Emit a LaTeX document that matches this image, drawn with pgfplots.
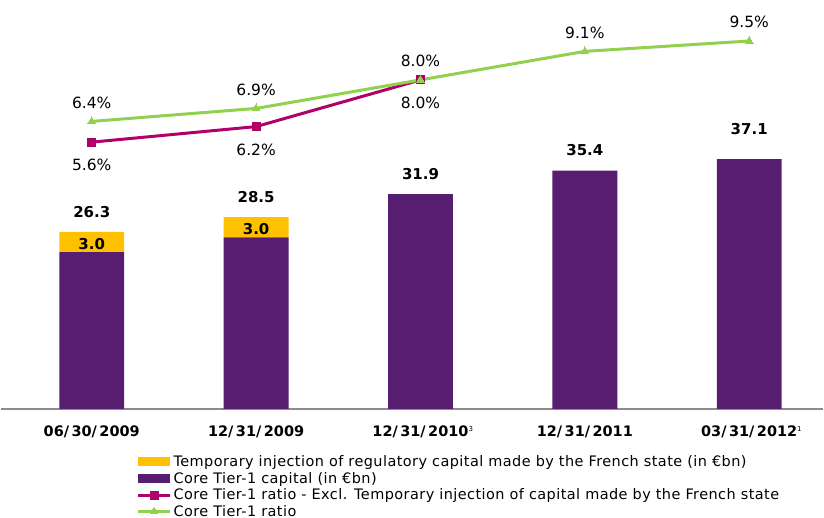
\documentclass[border=0pt]{standalone}
\usepackage{fontspec}
\setmainfont{DejaVu Sans}
\usepackage{pgfplots}
\usepackage{pgfplotstable}
\pgfplotsset{compat=1.18}

\definecolor{injOrange}{HTML}{FFC000}
\definecolor{corePurple}{HTML}{561D70}
\definecolor{exclMagenta}{HTML}{B0006A}
\definecolor{ratioGreen}{HTML}{92D050}
\definecolor{baseGray}{HTML}{8C8C8C}

% capital in EUR bn: core part, temporary state injection, total
\pgfplotstableread{
x core temp inner top
0 23.3 3.0 3.0 26.3
1 25.5 3.0 3.0 28.5
2 31.9 0   {}  31.9
3 35.4 0   {}  35.4
4 37.1 0   {}  37.1
}\capital

\newcommand{\dsl}{/\hspace{2.5pt}}

\pgfplotsset{
  frame/.style={
    width=824pt, height=410pt, scale only axis,
    xmin=-0.552, xmax=4.449, clip=false,
  },
  boxleg/.style={legend image code/.code={\fill[##1] (0pt,-4.5pt) rectangle (32pt,4.5pt);}},
  lineleg/.style={legend image code/.code={\draw[mark repeat=2,mark phase=2,##1] plot coordinates {(0pt,0pt)(16pt,0pt)(32pt,0pt)};}},
  pct/.style={
    nodes near coords={\pgfmathprintnumber[fixed,fixed zerofill,precision=1]{\pgfplotspointmeta}\%},
    nodes near coords style={font=\fontsize{15.5}{18}\selectfont, text=black, inner sep=0pt},
  },
  totlab/.style={
    draw=none, mark=none,
    nodes near coords={\pgfmathprintnumber[fixed,fixed zerofill,precision=1]{\pgfplotspointmeta}},
    nodes near coords style={font=\bfseries\fontsize{15}{17}\selectfont, text=black, inner sep=0pt, anchor=south},
  },
}

\begin{document}
\begin{tikzpicture}
\begin{axis}[
  frame,
  ybar stacked, bar width=65pt,
  ymin=0, ymax=60.74,
  axis y line=none,
  axis x line*=bottom,
  x axis line style={-, draw=baseGray, line width=2pt},
  xtick={0,1,2,3,4},
  xticklabels={
    06\dsl30\dsl2009,
    12\dsl31\dsl2009,
    12\dsl31\dsl2010\rlap{\textsuperscript{\mdseries\fontsize{7}{8}\selectfont 3}},
    12\dsl31\dsl2011,
    03\dsl31\dsl2012\rlap{\textsuperscript{\mdseries\fontsize{7}{8}\selectfont 1}}},
  major tick length=0pt,
  x tick label style={font=\bfseries\fontsize{14.5}{17}\selectfont, inner sep=0pt, yshift=-17pt},
]
\path (rel axis cs:0,0) rectangle (rel axis cs:1,1);
\addplot[fill=corePurple, draw=none]
  table[x=x, y=core] {\capital};
\addplot[fill=injOrange, draw=none,
  nodes near coords, point meta=explicit symbolic,
  nodes near coords style={font=\bfseries\fontsize{15}{17}\selectfont, inner sep=0pt, anchor=center, yshift=-2pt}]
  table[x=x, y=temp, meta=inner] {\capital};
\end{axis}

% totals above the bars, same scale as the bars
\begin{axis}[
  frame,
  ymin=0, ymax=60.74,
  hide axis,
  /pgf/number format/assume math mode=true,
]
\addplot[totlab, nodes near coords style={yshift=14.5pt}]
  table[x=x, y=top, skip coords between index={4}{5}] {\capital};
\addplot[totlab, nodes near coords style={yshift=24pt}]
  table[x=x, y=top, skip coords between index={0}{4}] {\capital};
\end{axis}

% ratios in percent
\begin{axis}[
  frame,
  ymin=-4.688, ymax=11.081,
  hide axis,
  /pgf/number format/assume math mode=true,
  legend style={
    at={(0.165,-0.114)}, anchor=north west,
    draw=none, fill=none, inner sep=0pt, outer sep=0pt,
    row sep=4.1pt, nodes={inner sep=0pt},
    font=\fontsize{14.5}{16.7}\selectfont\addfontfeatures{LetterSpace=3},
    /tikz/every odd column/.append style={column sep=2pt},
  },
  legend cell align=left,
]
\addlegendimage{fill=injOrange, draw=none, boxleg}
\addlegendentry{Temporary injection of regulatory capital made by the French state (in €bn)}
\addlegendimage{fill=corePurple, draw=none, boxleg}
\addlegendentry{Core Tier-1 capital (in €bn)}

\addplot[exclMagenta, line width=3pt, mark=square*, mark size=4pt,
  mark options={solid, line width=0pt},
  pct, nodes near coords style={anchor=north, yshift=-17pt}, lineleg]
  coordinates {(0,5.6) (1,6.2) (2,8.0)};
\addlegendentry{Core Tier-1 ratio - Excl. Temporary injection of capital made by the French state}

\addplot[ratioGreen, line width=3pt, mark=triangle*, mark size=4.5pt,
  mark options={solid, line width=0pt},
  pct, nodes near coords style={anchor=south, yshift=13pt}, lineleg]
  coordinates {(0,6.4) (1,6.9) (2,8.0) (3,9.1) (4,9.5)};
\addlegendentry{Core Tier-1 ratio}
\end{axis}
\end{tikzpicture}
\end{document}
